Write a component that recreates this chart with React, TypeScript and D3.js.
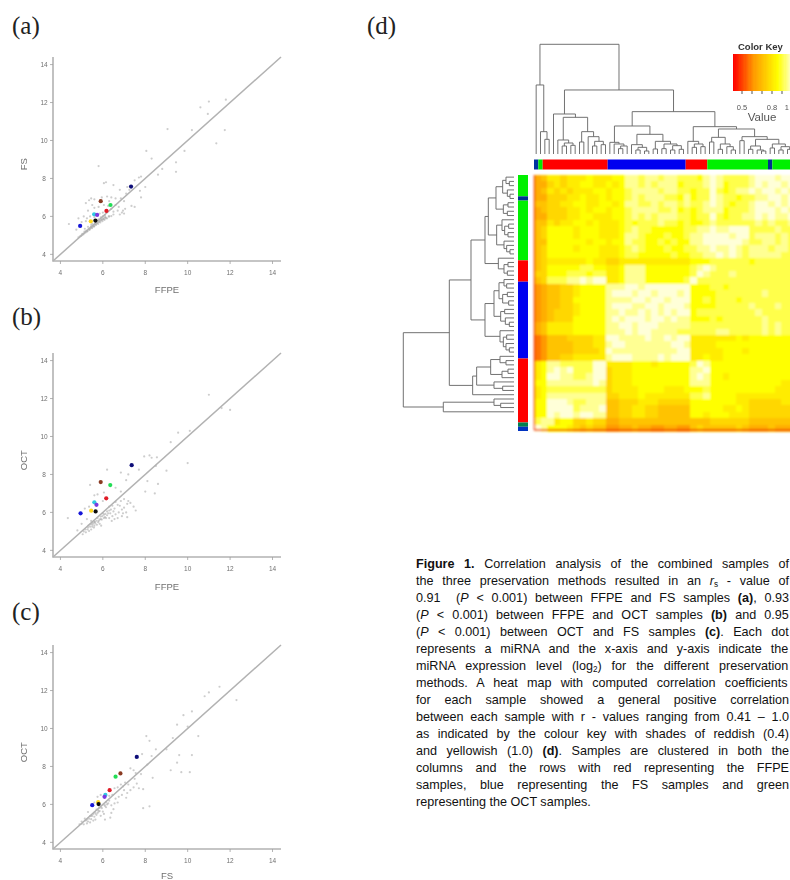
import React from 'react';
import * as d3 from 'd3';

// ---------- scatter data ----------
const axisTicks = [4, 6, 8, 10, 12, 14];
const panelLabels = ['(a)', '(b)', '(c)'];
const xTitles = ['FFPE', 'FFPE', 'FS'];
const yTitles = ['FS', 'OCT', 'OCT'];
const highlightColors = ['#0a0a78', '#8a3a22', '#22dd55', '#e01a28', '#30c8e0', '#7a3ae0', '#1414d8', '#ffd820', '#101010'];
const highlightA = [[7.33, 7.57], [5.9, 6.8], [6.36, 6.6], [6.17, 6.29], [5.59, 6.11], [5.73, 6.08], [4.93, 5.5], [5.43, 5.74], [5.65, 5.78]];
const highlightB = [[7.36, 8.49], [5.9, 7.6], [6.35, 7.44], [6.16, 6.74], [5.6, 6.53], [5.7, 6.4], [4.95, 5.95], [5.45, 6.09], [5.66, 6.05]];
const highlightC = [[7.6, 8.5], [6.83, 7.63], [6.6, 7.46], [6.32, 6.75], [6.12, 6.5], [6.08, 6.4], [5.5, 5.96], [5.78, 6.12], [5.8, 6.02]];

const grayA = [[11.8,12.15],[11,12.05],[10.6,11.75],[10.95,11.4],[11.75,10.55],[11.35,9.85],[10.2,10.55],[9.05,10.6],[8.05,9.45],[8.3,9.05],[9.45,8.85],[8.8,8.5],[9.45,8.35],[8.6,8.2],[9.85,9.45],[7.8,8.1],[5.8,8.65],[6.05,7.75],[6.15,7.8],[6.5,7.65],[6.8,7.4],[7.1,7.2],[7.25,7.4],[7.75,7.35],[8,7.55],[7.15,7.55],[7.5,7.9],[7.7,8.05],[5.35,6.85],[5.45,6.95],[5.6,6.9],[5.95,7.0],[6.2,7.05],[6.4,7.0],[6.6,6.95],[6.3,6.8],[6.85,6.95],[7,6.8],[6.6,6.6],[6.75,6.5],[6.95,6.3],[7.05,6.4],[6.9,6.2],[7.35,6.55],[7.5,6.5],[7.8,7.0],[6.7,6.3],[6.5,6.25],[6.4,6.4],[6.25,6.55],[6.05,6.6],[5.8,6.5],[5.6,6.45],[5.5,6.6],[5.2,6.7],[5.3,6.3],[5.1,6.0],[4.85,5.9],[4.4,5.6],[4.75,5.3],[5.0,5.7],[5.2,5.75],[5.25,5.9],[5.4,6.0],[5.6,5.95],[5.85,6.15],[6,6.2],[6.1,6.05],[6.3,6.0],[6.5,6.1],[6.8,6.1],[7,6.15],[4.85,4.9],[4.92,4.95],[4.98,4.97],[5.03,5.08],[5.08,5.05],[5.13,5.2],[5.18,5.14],[5.23,5.25],[5.28,5.22],[5.33,5.35],[5.38,5.3],[5.43,5.42],[5.48,5.38],[5.53,5.5],[5.58,5.46],[5.63,5.58],[5.68,5.55],[5.73,5.65],[5.78,5.6],[5.83,5.72],[5.88,5.68],[5.93,5.82],[5.98,5.75],[6.03,5.9],[6.08,5.82],[6.13,5.95],[6.2,5.9],[6.28,6.0],[6.4,6.02],[5.3,5.45],[5.5,5.62],[5.7,5.8],[5.9,5.95],[5.15,5.35],[5.45,5.55],[5.65,5.7],[5.8,5.85],[6.0,6.0],[5.0,5.02],[5.1,5.1],[5.2,5.2],[5.25,5.2],[5.35,5.3],[5.4,5.36],[5.45,5.45],[5.5,5.42],[5.55,5.52],[5.6,5.5],[5.65,5.6],[5.7,5.62],[5.75,5.68],[5.8,5.7],[5.85,5.76],[5.9,5.78],[5.95,5.85],[6.0,5.84],[6.05,5.86],[6.1,5.95],[6.15,5.9]];
const grayB = [[11,12.2],[11.6,11.5],[12,11.4],[9.2,9.7],[9.55,10.2],[10.1,10.3],[7.95,8.95],[8.2,9.0],[8.5,8.45],[9.0,8.2],[10.0,8.6],[8.55,8.9],[8.3,8.88],[7.7,8.25],[7.2,8.0],[6.85,8.1],[6.2,8.25],[5.4,7.45],[6.05,7.05],[6.6,7.3],[6.85,7.1],[7.1,7.7],[8.1,7.65],[8.6,7.5],[5.6,6.9],[5.75,6.95],[6.0,6.6],[6.3,6.3],[6.45,6.35],[6.6,6.55],[6.7,6.4],[6.85,6.6],[7.0,6.7],[7.2,6.6],[7.3,6.5],[7.45,6.3],[7.55,6.1],[7.15,6.45],[6.9,6.15],[7.0,6.25],[7.1,6.0],[6.75,6.0],[6.6,5.9],[6.9,5.8],[7.15,5.75],[6.5,6.05],[6.35,5.95],[6.2,5.85],[6.05,5.7],[6.3,5.7],[6.45,5.8],[6.55,5.65],[6.7,5.7],[6.8,6.35],[6.95,5.95],[5.35,6.3],[5.15,6.2],[4.35,5.7],[5.0,5.4],[5.25,5.65],[5.45,5.55],[5.6,5.5],[5.75,5.7],[5.9,5.65],[6.0,5.95],[5.85,5.4],[5.6,5.3],[5.45,5.1],[5.3,5.2],[5.1,5.0],[4.8,5.05],[5.05,4.85],[5.2,4.95],[5.35,5.02],[5.5,5.25],[5.65,5.42],[5.8,5.55],[5.95,5.62],[6.1,5.75],[6.2,6.05],[5.4,5.25],[5.55,5.42],[5.7,5.56],[5.9,5.78],[6.05,5.88],[6.15,5.7],[5.28,5.1],[5.18,5.1],[5.42,5.38],[5.58,5.2],[5.72,5.35],[6.3,6.1],[6.55,6.2],[6.42,5.55],[5.92,5.3],[8.0,7.1],[8.45,7.0],[5.5,5.35],[5.62,5.5],[5.78,5.48],[5.85,5.62],[5.98,5.8],[6.12,5.92],[6.25,5.95],[6.38,6.15],[5.32,5.3],[5.48,5.45]];
const grayC = [[11.5,12.2],[11,11.9],[10.8,11.7],[12.3,11.5],[10.2,10.9],[9.8,10.7],[9.5,10.2],[10,10.1],[10.5,9.6],[9.3,9.5],[8.05,9.6],[8.2,9.35],[8.5,8.9],[9,8.9],[9.6,8.6],[10.2,8.6],[9.5,8.2],[9.7,7.7],[10.1,7.7],[9.2,7.8],[8.3,8.55],[7.85,8.65],[7.3,7.9],[7.45,7.8],[7.9,5.8],[8.2,5.9],[7.7,6.85],[7.9,6.8],[8.35,7.4],[7.6,7.1],[7.45,6.9],[7.3,6.75],[7.15,6.6],[7.0,6.75],[7.1,6.35],[6.9,6.5],[6.75,6.4],[6.6,6.3],[6.7,6.1],[6.55,6.05],[6.4,5.95],[6.3,6.2],[6.2,6.0],[6.15,5.85],[6.5,5.75],[6.4,5.55],[6.35,5.3],[6.1,5.2],[6.05,5.5],[5.9,5.4],[5.85,5.65],[5.7,5.45],[5.65,5.2],[5.55,5.15],[5.4,5.05],[5.25,5.0],[5.1,4.95],[5.0,4.98],[5.2,5.15],[5.35,5.25],[5.5,5.4],[5.65,5.52],[5.8,5.62],[5.95,5.8],[6.1,5.92],[6.25,6.05],[5.3,5.1],[5.45,5.22],[5.6,5.35],[5.75,5.55],[6.0,5.62],[6.45,6.5],[6.7,6.9],[6.55,6.85],[6.85,7.05],[7.05,7.15],[6.3,6.45],[5.6,6.1],[5.3,5.6],[5.75,6.4],[5.9,6.5],[6.95,6.95],[7.2,7.05],[7.5,7.35],[7.8,7.6],[7.55,7.65],[8.1,8.1],[5.15,5.25],[5.0,5.1],[4.9,4.95],[5.4,5.38],[5.55,5.5],[5.7,5.72],[5.85,5.82],[6.0,5.98],[6.15,6.12],[5.25,5.2],[5.45,5.4],[5.62,5.6],[5.78,5.7],[5.92,5.88],[6.08,6.0]];

// ---------- heat map data: one digit per cell, value = 0.56 + digit * 0.049 ----------
const heatRows = [
  '23 5545 55655 566 8878878877 768 987777 8999899',
  '22 4545 56655 656 8878788867 778 986777 8989989',
  '23 5454 55566 566 7888878877 677 976788 9899898',
  '22 4445 56556 566 7878887768 677 987767 7889989',
  '33 4455 66556 656 8877878878 778 987677 8998989',
  '23 4445 56566 566 7888877867 678 886777 8999898',
  '22 4445 56655 566 7878788877 677 976778 8989889',
  '33 5455 66565 556 7677787767 667 877777 7878778',
  '34 6666 56665 556 7877666667 788 988999 7777877',
  '34 6666 56665 556 8876667667 889 999899 7888787',
  '33 6666 66566 566 8776676766 889 999998 7788787',
  '34 6666 56665 556 7876667667 788 988987 8887887',
  '34 6666 66665 556 7766666766 778 898987 8888877',
  '34 5555 55655 445 5555555555 666 777777 6777777',
  '34 6666 67766 556 8886666666 789 877777 7777777',
  '44 6667 77677 556 8886666666 798 777877 7777777',
  '34 7778 89899 556 8886666667 977 777777 7777777',
  '12 3344 56666 888 9989999999 666 776777 7777777',
  '12 3344 56666 899 9899899989 666 677777 7787777',
  '12 3344 66666 888 8998998999 667 677767 7777777',
  '12 3344 56666 899 9889989998 666 677777 8777877',
  '12 3444 56666 889 8898989899 677 777777 7877777',
  '12 3444 66666 898 9998998988 666 767777 7787777',
  '23 5555 66666 889 9899988888 777 777777 7787877',
  '23 5555 66666 888 9899888877 777 788777 7787877',
  '01 3334 44455 998 8889889899 555 555565 6666666',
  '01 3333 44455 899 8888888998 555 566666 6666666',
  '01 3333 44445 988 8888888899 555 556665 6666666',
  '01 3344 55555 899 9888898999 556 556666 6666666',
  '56 8877 77799 555 5666566666 798 666666 6666666',
  '56 8989 77799 455 5666666666 889 666666 6666666',
  '56 9988 77899 455 5666666666 898 665666 6666666',
  '66 8888 88898 455 5666666666 888 666666 6666655',
  '56 7777 77777 455 5566665556 667 666666 6666555',
  '56 8888 88888 445 5565555555 778 666655 5555555',
  '66 9998 77888 334 4455544444 666 666655 4444455',
  '66 9999 78889 334 4554433333 666 665565 4444444',
  '66 9899 89988 334 4554433333 665 666555 4444444',
  '78 8566 44544 223 3333333333 333 444444 3333333',
  '98 6665 43433 112 2322112211 343 333343 2223222',
];
const keyTicks = [0.5, 0.6, 0.7, 0.8, 0.9, 1.0];
const keyLabels = [0.5, 0.8, 1.0];
const keyValues = d3.range(0.41, 1.02, 0.0125);

// ---------- sample colour bars: [colour, number of samples] ----------
const colBar: [string, number][] = [['#0030a0', 1], ['#00e800', 1], ['#ff0000', 15], ['#0000f0', 18], ['#ff0000', 5], ['#00f000', 14], ['#003090', 1], ['#00f000', 5]];
const rowBar: [string, number][] = [['#00f000', 5], ['#003090', 1], ['#00f000', 14], ['#ff0000', 5], ['#0000f0', 18], ['#ff0000', 15], ['#008050', 1], ['#0030c0', 1]];

// ---------- dendrograms: [height, left, right]; 0 is a leaf ----------
const colOut = [207, 0, [67, 0, [44, 0, 0]]];
const colA = [120, 0, [110, [42, 0, [33, [24, 0, 0], [26, 0, 0]]], [67, [36, 0, 0], [52, 0, [38, [24, 0, 0], [28, 0, 0]]]]]];
const colB = [84, [35, 0, [30, 0, [24, [16, 0, 0], 0]]], [59, [28, 0, [20, [12, 0, 0], [9, 0, 0]]], [38, [15, 0, 0], [30, [16, 0, 0], [25, [12, 0, 0], [14, 0, 0]]]]]];
const colC = [82, [38, 0, [30, [20, 0, 0], [22, 0, 0]]], [75, [50, [36, 0, 0], [30, [14, 0, 0], [22, 0, [12, 0, 0]]]], [52, [40, 0, 0], [44, [24, [14, 0, 0], [12, 0, [9, 0, 0]]], [30, [18, 0, 0], [22, [12, 0, 0], [14, 0, 0]]]]]]];
const colTree = [329, colOut, [192, colA, [127, colB, colC]]];

const rowGreen = [77, [54, [34, [24, 0, [14, 0, 0]], [20, 0, [12, 0, 0]]], [32, [18, 0, 0], [20, 0, 0]]], [52, [36, 0, [28, [16, 0, 0], [18, 0, 0]]], [30, 0, [22, 0, [12, 0, 0]]]]];
const rowRed = [47, 0, [30, [18, 0, 0], [20, 0, 0]]];
const rowBlue1 = [60, [45, [30, 0, [22, 0, 0]], [34, [20, 0, 0], [16, 0, 0]]], [40, [28, 0, 0], [26, 0, [14, 0, 0]]]];
const rowBlue2 = [42, 0, [32, [22, 0, 0], [24, 0, [14, 0, 0]]]];
const rowLower = [124, [112, [70, [42, 0, [24, 0, 0]], [36, [18, 0, 0], 0]], [60, 0, [34, 0, 0]]], 0];
const rowLow = [212, [60, 0, [40, 0, 0]], 0];
const rowTree = [332, [194, [129, [87, rowGreen, rowRed], [87, rowBlue1, rowBlue2]], rowLower], rowLow];

// ---------- caption ----------
type Run = { t: string; b?: boolean; i?: boolean; sub?: boolean };
const captionLines: Run[][] = [
  [{ t: 'Figure 1.', b: true }, { t: ' Correlation analysis of the combined samples of' }],
  [{ t: 'the three preservation methods resulted in an ' }, { t: 'r', i: true }, { t: 's', sub: true }, { t: ' - value of' }],
  [{ t: '0.91  (' }, { t: 'P', i: true }, { t: ' < 0.001) between FFPE and FS samples ' }, { t: '(a)', b: true }, { t: ', 0.93' }],
  [{ t: '(' }, { t: 'P', i: true }, { t: ' < 0.001) between FFPE and OCT samples ' }, { t: '(b)', b: true }, { t: ' and 0.95' }],
  [{ t: '(' }, { t: 'P', i: true }, { t: ' < 0.001) between OCT and FS samples ' }, { t: '(c)', b: true }, { t: '. Each dot' }],
  [{ t: 'represents a miRNA and the x-axis and y-axis indicate the' }],
  [{ t: 'miRNA expression level (log' }, { t: '2', sub: true }, { t: ') for the different preservation' }],
  [{ t: 'methods. A heat map with computed correlation coefficients' }],
  [{ t: 'for each sample showed a general positive correlation' }],
  [{ t: 'between each sample with r - values ranging from 0.41 – 1.0' }],
  [{ t: 'as indicated by the colour key with shades of reddish (0.4)' }],
  [{ t: 'and yellowish (1.0) ' }, { t: '(d)', b: true }, { t: '. Samples are clustered in both the' }],
  [{ t: 'columns and the rows with red representing the FFPE' }],
  [{ t: 'samples, blue representing the FS samples and green' }],
  [{ t: 'representing the OCT samples.' }],
];

const SANS = '"Liberation Sans", Arial, sans-serif';
const SERIF = '"Liberation Serif", "Times New Roman", serif';

const heatColor = d3.scaleLinear<string>()
  .domain([0.41, 0.61, 0.85, 1.0])
  .range(['#ff0000', '#ff9a00', '#ffff00', '#ffffd8'])
  .clamp(true);

function dendrogramPath(tree: any, leafBand: d3.ScaleBand<number>, hScale: d3.ScaleLinear<number, number>, vertical: boolean) {
  const root = d3.hierarchy<any>(tree, (d) => (Array.isArray(d) ? d.slice(1) : null));
  let leaf = 0;
  const pos = new Map<any, number>();
  root.eachAfter((n) => {
    if (!n.children) pos.set(n, leafBand(leaf++)! + leafBand.bandwidth() / 2);
    else pos.set(n, d3.mean(n.children, (c) => pos.get(c))!);
  });
  const path = d3.path();
  const pt = (p: number, h: number) => (vertical ? [p, hScale(h)] : [hScale(h), p]) as [number, number];
  root.each((n) => {
    if (!n.children) return;
    const h = n.data[0];
    const [a, b] = n.children;
    const ha = a.children ? a.data[0] : 0;
    const hb = b.children ? b.data[0] : 0;
    path.moveTo(...pt(pos.get(a)!, ha));
    path.lineTo(...pt(pos.get(a)!, h));
    path.lineTo(...pt(pos.get(b)!, h));
    path.lineTo(...pt(pos.get(b)!, hb));
  });
  return path.toString();
}

function expandBar(bar: [string, number][]) {
  let i = 0;
  return bar.map(([c, n]) => {
    const s = { c, start: i, n };
    i += n;
    return s;
  });
}

function Scatter({ index, top, titleOffset, gray, highlight }: { index: number; top: number; titleOffset: number; gray: number[][]; highlight: number[][] }) {
  const x = d3.scaleLinear().domain([3.65, 14.4]).range([53, 281]);
  const y = d3.scaleLinear().domain([3.65, 14.4]).range([top + 204, top]);
  const line = d3.line<number>().x((v) => x(v)).y((v) => y(v));
  const bottom = y(3.65);
  const txt = '#707070';
  return (
    <g>
      <g filter="url(#soft)">
        {gray.map((p, i) => (
          <circle key={i} cx={x(p[0])} cy={y(p[1])} r={1.1} fill="#a4a4a4" opacity={0.55} />
        ))}
        <path d={line([3.65, 14.4])!} stroke="#b2b2b2" strokeWidth={1.5} fill="none" />
        {highlight.map((p, i) => (
          <circle key={i} cx={x(p[0])} cy={y(p[1])} r={2.1} fill={highlightColors[i]} />
        ))}
        <path d={`M${x(3.65)},${y(14.4)}V${bottom}H${x(14.4)}`} stroke="#b2b2b2" strokeWidth={1.6} fill="none" />
        {axisTicks.map((t) => (
          <g key={t} stroke="#a0a0a0" strokeWidth={0.8}>
            <line x1={x(t)} x2={x(t)} y1={bottom} y2={bottom + 3} />
            <line x1={x(3.65)} x2={x(3.65) - 3} y1={y(t)} y2={y(t)} />
          </g>
        ))}
      </g>
      <g fontFamily={SANS} fill={txt} filter="url(#softText)">
        {axisTicks.map((t) => (
          <g key={t} fontSize={6.5}>
            <text x={x(t)} y={bottom + 14} textAnchor="middle">{t}</text>
            <text x={44} y={y(t) + 2.4} textAnchor="middle">{t}</text>
          </g>
        ))}
        <text x={167} y={bottom + titleOffset} textAnchor="middle" fontSize={9.5}>{xTitles[index]}</text>
        <text transform={`translate(27,${y(8.75)}) rotate(-90)`} textAnchor="middle" fontSize={9.5}>{yTitles[index]}</text>
      </g>
    </g>
  );
}

function Heatmap() {
  const rows = heatRows.map((r) => r.replace(/ /g, '').split('').map((d) => 0.56 + +d * 0.049));
  const nCols = d3.max(rows, (r) => r.length)!;
  const x = d3.scaleBand<number>().domain(d3.range(nCols)).range([534, 794]);
  const y = d3.scaleBand<number>().domain(d3.range(rows.length)).range([175, 431]);
  const colLeaf = d3.scaleBand<number>().domain(d3.range(60)).range([534, 794]);
  const rowLeaf = d3.scaleBand<number>().domain(d3.range(60)).range([175, 431]);
  const colH = d3.scaleLinear().domain([0, 329]).range([154, 44.3]);
  const rowH = d3.scaleLinear().domain([0, 332]).range([514, 403.3]);
  const keyX = d3.scaleLinear().domain([0.41, 1.0]).range([733, 792]);
  return (
    <g>
      <g filter="url(#softHeat)">
        <g shapeRendering="crispEdges">
          {rows.map((r, i) =>
            r.map((v, j) => (
              <rect key={`${i}-${j}`} x={x(j)} y={y(i)} width={x.bandwidth() + 0.5} height={y.bandwidth() + 0.5} fill={heatColor(v)} />
            )),
          )}
        </g>
        <path d={`M${x.range()[0] + 0.5},${y.range()[0]}V${y.range()[1] - 1}H${x.range()[1]}`} fill="none" stroke="#f03000" strokeWidth={1.4} />
      </g>
      <g filter="url(#soft)">
        <path d={dendrogramPath(colTree, colLeaf, colH, true)} fill="none" stroke="#6a6a6a" strokeWidth={0.95} />
        <path d={dendrogramPath(rowTree, rowLeaf, rowH, false)} fill="none" stroke="#6a6a6a" strokeWidth={0.95} />
        {expandBar(colBar).map((s, i) => (
          <rect key={i} x={colLeaf(s.start)} y={159.5} width={colLeaf.step() * s.n} height={10} fill={s.c} />
        ))}
        {expandBar(rowBar).map((s, i) => (
          <rect key={i} x={518} y={rowLeaf(s.start)} width={10} height={rowLeaf.step() * s.n} fill={s.c} />
        ))}
      </g>
      <g filter="url(#soft)">
        <g shapeRendering="crispEdges">
          {keyValues.map((v) => (
            <rect key={v} x={keyX(v)} y={54} width={2} height={37} fill={heatColor(v)} />
          ))}
        </g>
        {keyTicks.map((t) => (
          <line key={t} x1={keyX(t)} x2={keyX(t)} y1={91} y2={94} stroke="#444" strokeWidth={0.9} />
        ))}
      </g>
      <g fontFamily={SANS} fill="#555" filter="url(#softText)">
        <text x={738} y={49.5} fontSize={9.5} fontWeight="bold" fill="#333">Color Key</text>
        {keyLabels.map((t) => (
          <text key={t} x={t === 1 ? 789 : keyX(t)} y={110} fontSize={7.5} textAnchor={t === 1 ? 'end' : 'middle'}>{t === 1 ? '1' : t}</text>
        ))}
        <text x={762} y={121} fontSize={11.5} textAnchor="middle">Value</text>
      </g>
    </g>
  );
}

function Caption() {
  const ctx = document.createElement('canvas').getContext('2d')!;
  const size = 12.6;
  const left = 416;
  const right = 789;
  const lineY = d3.scaleLinear().domain([0, 14]).range([568, 806]);
  const measure = (r: Run) => {
    const s = r.sub ? size * 0.65 : size;
    ctx.font = `${r.i ? 'italic ' : ''}${r.b ? 'bold ' : ''}${s}px "Liberation Sans"`;
    return ctx.measureText(r.t).width;
  };
  return (
    <g fontFamily={SANS} fontSize={size} fill="#111">
      {captionLines.map((runs, i) => {
        const width = d3.sum(runs, measure);
        const spaces = d3.sum(runs, (r) => (r.t.match(/ /g) || []).length);
        const last = i === captionLines.length - 1;
        const ws = last ? 0 : (right - left - width) / spaces;
        return (
          <text key={i} x={left} y={lineY(i)} wordSpacing={ws} xmlSpace="preserve" style={{ whiteSpace: 'pre' }}>
            {runs.map((r, j) => (
              <tspan
                key={j}
                fontWeight={r.b ? 'bold' : undefined}
                fontStyle={r.i ? 'italic' : undefined}
                fontSize={r.sub ? size * 0.65 : undefined}
                dy={r.sub ? 2 : j > 0 && runs[j - 1].sub ? -2 : undefined}
              >
                {r.t}
              </tspan>
            ))}
          </text>
        );
      })}
    </g>
  );
}

export default function App() {
  return (
    <svg width={790} height={880} style={{ position: 'absolute', left: 0, top: 0, background: '#fff' }}>
      <defs>
        <filter id="soft" x="-5%" y="-5%" width="110%" height="110%"><feGaussianBlur stdDeviation="0.6" /></filter>
        <filter id="softText" x="-5%" y="-5%" width="110%" height="110%"><feGaussianBlur stdDeviation="0.35" /></filter>
        <filter id="softHeat" x="-2%" y="-2%" width="104%" height="104%"><feGaussianBlur stdDeviation="1" /></filter>
      </defs>
      <g fontFamily={SERIF} fontSize={25} fill="#222">
        <text x={12} y={34}>{panelLabels[0]}</text>
        <text x={12} y={325}>{panelLabels[1]}</text>
        <text x={12} y={620}>{panelLabels[2]}</text>
        <text x={367} y={34}>(d)</text>
      </g>
      <Scatter index={0} top={57} titleOffset={32} gray={grayA} highlight={highlightA} />
      <Scatter index={1} top={353} titleOffset={33} gray={grayB} highlight={highlightB} />
      <Scatter index={2} top={645} titleOffset={29.5} gray={grayC} highlight={highlightC} />
      <Heatmap />
      <Caption />
    </svg>
  );
}
